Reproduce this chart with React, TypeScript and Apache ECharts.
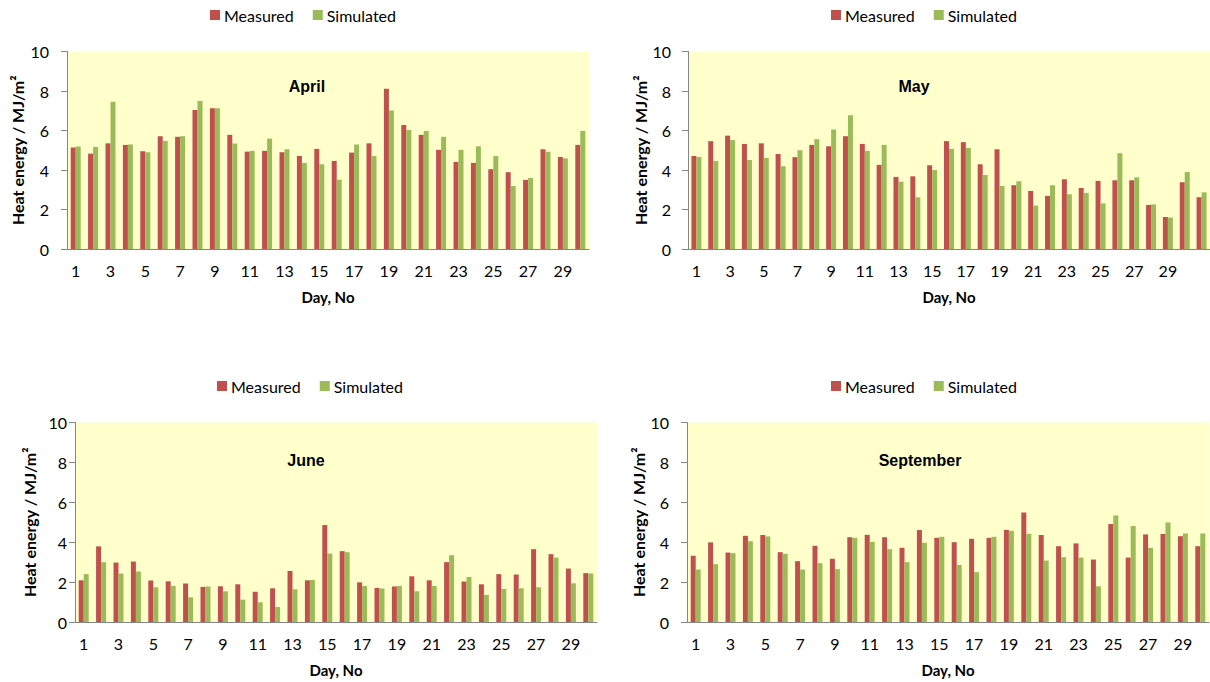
import React, { useEffect, useRef } from 'react';
import * as echarts from 'echarts';

const days30 = ['1','2','3','4','5','6','7','8','9','10','11','12','13','14','15','16','17','18','19','20','21','22','23','24','25','26','27','28','29','30'];
const days31 = ['1','2','3','4','5','6','7','8','9','10','11','12','13','14','15','16','17','18','19','20','21','22','23','24','25','26','27','28','29','30','31'];

const seriesNames = ['Measured', 'Simulated'];
const monthTitles = ['April', 'May', 'June', 'September'];
const yTicks = { min: 0, max: 10, interval: 2 };

const aprMeasured = [5.14,4.83,5.35,5.27,4.95,5.71,5.68,7.04,7.13,5.78,4.93,4.97,4.9,4.71,5.07,4.46,4.88,5.35,8.11,6.28,5.78,5.02,4.41,4.36,4.04,3.89,3.5,5.05,4.66,5.27];
const aprSimulated = [5.19,5.17,7.45,5.29,4.9,5.47,5.71,7.5,7.13,5.34,4.97,5.59,5.05,4.36,4.29,3.51,5.29,4.71,7.01,6.03,5.98,5.68,5.02,5.2,4.71,3.19,3.6,4.92,4.59,5.98];

const mayMeasured = [4.71,5.46,5.74,5.32,5.35,4.81,4.65,5.27,5.2,5.71,5.32,4.26,3.65,3.68,4.24,5.46,5.41,4.29,5.05,3.23,2.94,2.69,3.53,3.09,3.45,3.48,3.48,2.23,1.62,3.38,2.62];
const maySimulated = [4.66,4.46,5.52,4.51,4.61,4.19,5.0,5.56,6.05,6.77,4.97,5.27,3.41,2.62,4.0,5.07,5.12,3.75,3.19,3.43,2.2,3.23,2.77,2.84,2.31,4.85,3.63,2.26,1.59,3.9,2.87];

const junMeasured = [2.09,3.79,2.98,3.03,2.08,2.04,1.93,1.76,1.79,1.89,1.52,1.69,2.56,2.09,4.86,3.55,1.99,1.71,1.78,2.29,2.09,3.0,2.03,1.89,2.4,2.38,3.65,3.4,2.68,2.45];
const junSimulated = [2.4,3.0,2.43,2.53,1.74,1.81,1.24,1.78,1.54,1.12,0.99,0.75,1.64,2.11,3.43,3.5,1.81,1.68,1.81,1.54,1.81,3.35,2.26,1.36,1.66,1.69,1.74,3.23,1.94,2.43];

const sepMeasured = [3.32,3.99,3.48,4.32,4.36,3.5,3.05,3.82,3.17,4.25,4.37,4.25,3.72,4.61,4.22,4.0,4.17,4.22,4.62,5.49,4.36,3.8,3.94,3.13,4.91,3.23,4.39,4.41,4.3,3.8];
const sepSimulated = [2.63,2.9,3.45,4.05,4.29,3.42,2.63,2.95,2.65,4.22,4.02,3.65,3.0,3.97,4.27,2.86,2.5,4.27,4.57,4.42,3.08,3.25,3.23,1.79,5.34,4.81,3.72,4.99,4.44,4.44];

const monthData = [
  { cats: days30, m: aprMeasured, s: aprSimulated },
  { cats: days31, m: mayMeasured, s: maySimulated },
  { cats: days30, m: junMeasured, s: junSimulated },
  { cats: days30, m: sepMeasured, s: sepSimulated },
];

// layout (pixels)
const layout = [
  { grid: { left: 67, top: 51.5, width: 522, height: 197.5 }, labelMargin: 18, nameGap: 42, legendLeft: 205, legendTop: 2, titleX: 307, titleY: 86 },
  { grid: { left: 688, top: 51.5, width: 522, height: 197.5 }, labelMargin: 17, nameGap: 40, legendLeft: 826, legendTop: 2, titleX: 914, titleY: 86 },
  { grid: { left: 75, top: 422.5, width: 522, height: 199.5 }, labelMargin: 8, nameGap: 38, legendLeft: 212, legendTop: 373, titleX: 306, titleY: 460 },
  { grid: { left: 687, top: 422.5, width: 522, height: 199.5 }, labelMargin: 18, nameGap: 40, legendLeft: 826, legendTop: 373, titleX: 920, titleY: 460 },
];

const RED = '#C0504D';
const GREEN = '#9BBB59';
const AXIS = '#868686';
const FONT = 'Lato';

export default function App() {
  const ref = useRef<HTMLDivElement>(null);
  useEffect(() => {
    if (!ref.current) return;
    const chart = echarts.init(ref.current, undefined, { renderer: 'svg' });
    const grids: any[] = [];
    const xAxes: any[] = [];
    const yAxes: any[] = [];
    const series: any[] = [];
    const legends: any[] = [];
    const graphics: any[] = [];
    monthData.forEach((d, i) => {
      const L = layout[i];
      grids.push({ ...L.grid, show: true, backgroundColor: '#FFFFCC', borderWidth: 0, containLabel: false });
      xAxes.push({
        gridIndex: i, type: 'category', data: d.cats,
        axisLine: { show: true, lineStyle: { color: AXIS, width: 1 } },
        axisTick: { show: false },
        axisLabel: { interval: (idx: number) => idx % 2 === 0 && idx < 29, margin: 13, color: '#000', fontSize: 16, fontFamily: FONT },
        splitLine: { show: false },
        name: 'Day, No', nameLocation: 'middle', nameGap: 40,
        nameTextStyle: { color: '#000', fontSize: 15, fontWeight: 'bold', fontFamily: FONT },
      });
      yAxes.push({
        gridIndex: i, type: 'value', min: yTicks.min, max: yTicks.max, interval: yTicks.interval,
        axisLine: { show: true, lineStyle: { color: AXIS, width: 1 } },
        axisTick: { show: true, length: 6, lineStyle: { color: AXIS } },
        axisLabel: { margin: L.labelMargin, color: '#000', fontSize: 16, fontFamily: FONT },
        splitLine: { show: false },
        name: 'Heat energy / MJ/m²', nameLocation: 'middle', nameGap: L.nameGap, nameRotate: 90,
        nameTextStyle: { color: '#000', fontSize: 16, fontWeight: 'bold', fontFamily: FONT },
      });
      series.push({
        type: 'bar', name: seriesNames[0], xAxisIndex: i, yAxisIndex: i, data: d.m,
        barWidth: 5, barGap: '0%', itemStyle: { color: RED },
      });
      series.push({
        type: 'bar', name: seriesNames[1], xAxisIndex: i, yAxisIndex: i, data: d.s,
        barWidth: 5, barGap: '0%', itemStyle: { color: GREEN },
      });
      legends.push({
        left: L.legendLeft, top: L.legendTop, orient: 'horizontal', data: seriesNames,
        icon: 'rect', itemWidth: 10, itemHeight: 10, itemGap: 19,
        textStyle: { color: '#000', fontSize: 16, fontFamily: FONT, padding: [0, 0, 0, -1] },
      });
      graphics.push({
        type: 'text', x: L.titleX, y: L.titleY,
        style: { text: monthTitles[i], align: 'center', verticalAlign: 'middle', fill: '#000', font: 'bold 16px "Liberation Sans", Arial, sans-serif' },
      });
    });
    chart.setOption({
      animation: false,
      backgroundColor: '#fff',
      grid: grids,
      xAxis: xAxes,
      yAxis: yAxes,
      series,
      legend: legends,
      graphic: graphics,
    });
    return () => chart.dispose();
  }, []);
  return <div ref={ref} style={{ position: 'absolute', left: 0, top: 0, width: 1210, height: 682 }} />;
}
